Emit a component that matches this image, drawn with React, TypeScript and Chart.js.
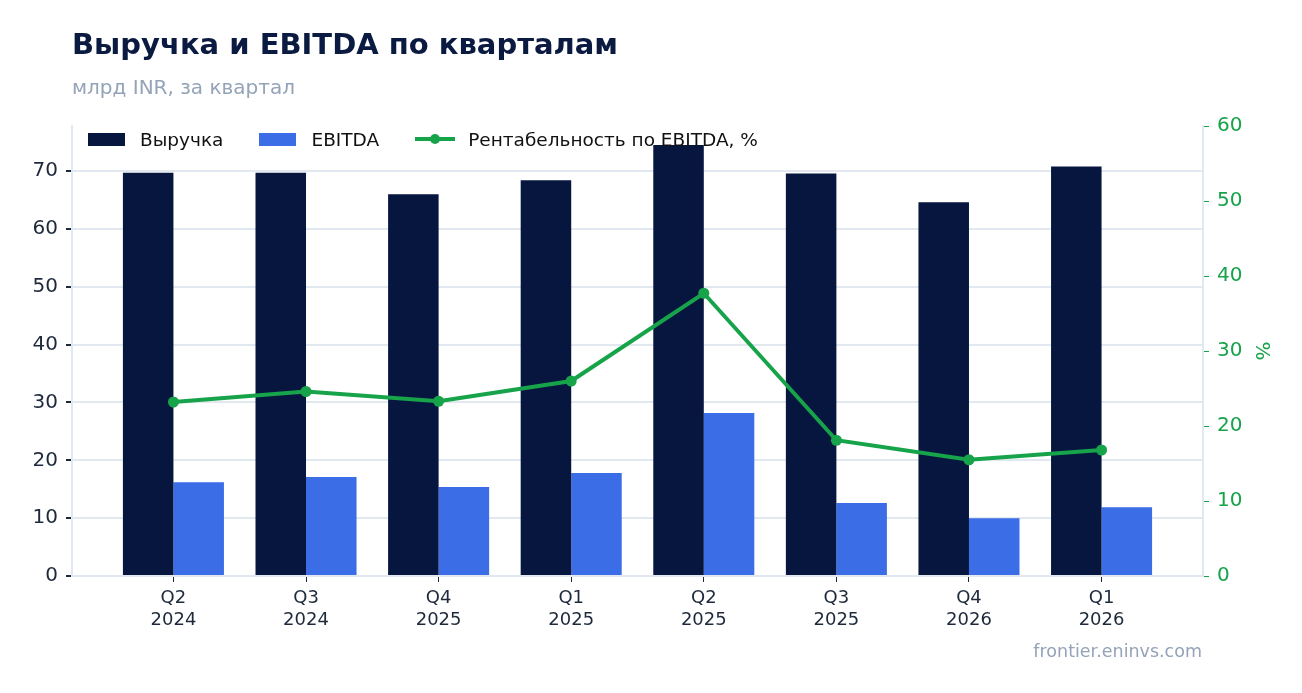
import { useEffect, useRef } from 'react';
import { Chart, registerables } from 'chart.js';

Chart.register(...registerables);

const quarters = [
  ['Q2', '2024'], ['Q3', '2024'], ['Q4', '2025'], ['Q1', '2025'],
  ['Q2', '2025'], ['Q3', '2025'], ['Q4', '2026'], ['Q1', '2026'],
];
// млрд INR
const revenue = [69.7, 69.7, 66.0, 68.4, 74.5, 69.6, 64.6, 70.8];
const ebitda = [16.2, 17.1, 15.4, 17.8, 28.2, 12.6, 10.0, 11.9];
// %
const margin = [23.2, 24.6, 23.3, 26.0, 37.7, 18.1, 15.5, 16.8];

const NAVY = '#06163f';
const BLUE = '#3b6de6';
const GREEN = '#16a34a';
const GRID = '#e2e8f0';
const TEXT = '#1e293b';
const MUTED = '#94a3b8';
const FONT = '"DejaVu Sans", sans-serif';

const pts = (vals: number[]) => vals.map((v, i) => ({ x: i, y: v }));

export default function App() {
  const canvasRef = useRef<HTMLCanvasElement>(null);

  useEffect(() => {
    if (!canvasRef.current) return;
    const chart = new Chart(canvasRef.current, {
      type: 'bar',
      data: {
        datasets: [
          {
            type: 'line',
            label: 'Рентабельность по EBITDA, %',
            data: pts(margin),
            yAxisID: 'y1',
            borderColor: GREEN,
            backgroundColor: GREEN,
            borderWidth: 4,
            pointRadius: 5.5,
            pointBackgroundColor: GREEN,
            pointBorderWidth: 0,
            order: 0,
          },
          {
            label: 'Выручка',
            data: pts(revenue),
            backgroundColor: NAVY,
            yAxisID: 'y',
            categoryPercentage: 0.762,
            barPercentage: 1,
            order: 1,
          },
          {
            label: 'EBITDA',
            data: pts(ebitda),
            backgroundColor: BLUE,
            yAxisID: 'y',
            categoryPercentage: 0.762,
            barPercentage: 1,
            order: 1,
          },
        ],
      } as any,
      options: {
        responsive: false,
        animation: false,
        layout: { padding: { top: 126, left: 0, right: 25, bottom: 0 } },
        plugins: { legend: { display: false }, tooltip: { enabled: false } },
        scales: {
          x: {
            type: 'linear',
            offset: false,
            min: -0.765,
            max: 7.765,
            grid: { drawOnChartArea: false, offset: false, tickColor: TEXT, tickLength: 6 },
            border: { color: GRID, width: 2 },
            ticks: {
              stepSize: 1,
              color: TEXT,
              font: { family: FONT, size: 18 },
              padding: 6,
              callback: (v: any) => quarters[v] ?? '',
            },
            afterBuildTicks: (s: any) => {
              s.ticks = s.ticks.filter((t: any) => Number.isInteger(t.value) && t.value >= 0 && t.value < quarters.length);
            },
            afterFit: (s: any) => { s.height = 117; },
          },
          y: {
            position: 'left',
            min: 0,
            max: 77.8,
            ticks: { stepSize: 10, color: TEXT, font: { family: FONT, size: 20 }, padding: 8 },
            grid: { color: GRID, lineWidth: 2, tickColor: TEXT, tickLength: 6 },
            border: { color: GRID, width: 2 },
            afterBuildTicks: (s: any) => { s.ticks = s.ticks.filter((t: any) => t.value % 10 === 0); },
            afterFit: (s: any) => { s.width = 72; },
          },
          y1: {
            position: 'right',
            min: 0,
            max: 60,
            ticks: { stepSize: 10, color: GREEN, font: { family: FONT, size: 20 }, padding: 8 },
            grid: { drawOnChartArea: false, tickColor: GREEN, tickLength: 6 },
            border: { color: GRID, width: 2 },
            title: { display: true, text: '%', color: GREEN, font: { family: FONT, size: 20 } },
            afterFit: (s: any) => { s.width = 74; },
          },
        },
      } as any,
    });
    return () => chart.destroy();
  }, []);

  const legendItem = { display: 'flex', alignItems: 'center', marginRight: 36 } as const;

  return (
    <div style={{ position: 'absolute', left: 0, top: 0, width: 1302, height: 693, background: '#fff', fontFamily: FONT, overflow: 'hidden' }}>
      <canvas ref={canvasRef} width={1302} height={693} style={{ position: 'absolute', left: 0, top: 0 }} />
      <div style={{ position: 'absolute', left: 72, top: 27, fontSize: 29, fontWeight: 'bold', color: '#0b1a40', whiteSpace: 'nowrap' }}>
        Выручка и EBITDA по кварталам
      </div>
      <div style={{ position: 'absolute', left: 72, top: 75, fontSize: 20, color: MUTED, whiteSpace: 'nowrap' }}>
        млрд INR, за квартал
      </div>
      <div style={{ position: 'absolute', left: 88, top: 128, height: 22, display: 'flex', alignItems: 'center', fontSize: 18.5, color: '#111', whiteSpace: 'nowrap' }}>
        <div style={legendItem}>
          <span style={{ width: 37, height: 13, background: NAVY, marginRight: 15 }} />
          <span>Выручка</span>
        </div>
        <div style={legendItem}>
          <span style={{ width: 37, height: 13, background: BLUE, marginRight: 15 }} />
          <span>EBITDA</span>
        </div>
        <div style={legendItem}>
          <span style={{ position: 'relative', width: 40, height: 4, background: GREEN, marginRight: 13 }}>
            <span style={{ position: 'absolute', left: 15, top: -3, width: 10, height: 10, borderRadius: 5, background: GREEN }} />
          </span>
          <span>Рентабельность по EBITDA, %</span>
        </div>
      </div>
      <div style={{ position: 'absolute', right: 100, top: 641, fontSize: 17.5, color: MUTED, whiteSpace: 'nowrap' }}>
        frontier.eninvs.com
      </div>
    </div>
  );
}
